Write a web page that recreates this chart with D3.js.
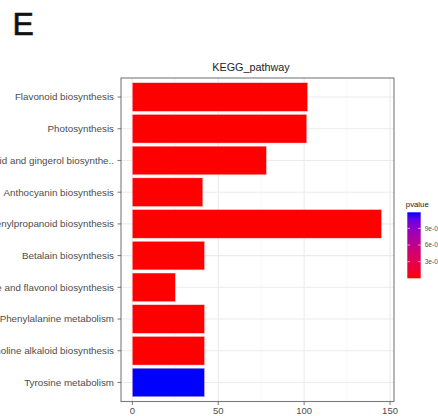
<!DOCTYPE html>
<html><head><meta charset="utf-8">
<script src="https://cdn.jsdelivr.net/npm/d3@7"></script>
<style>html,body{margin:0;padding:0;background:#fff;}svg{display:block;}</style>
</head><body>
<svg id="c" width="438" height="416"></svg>
<script>
const categories = [
  "Flavonoid biosynthesis",
  "Photosynthesis",
  "Stilbenoid, diarylheptanoid and gingerol biosynthe..",
  "Anthocyanin biosynthesis",
  "Phenylpropanoid biosynthesis",
  "Betalain biosynthesis",
  "Flavone and flavonol biosynthesis",
  "Phenylalanine metabolism",
  "Isoquinoline alkaloid biosynthesis",
  "Tyrosine metabolism"
];
const counts = [102, 101.5, 78, 41, 145, 42, 25, 42, 42, 42];
const pvalues = [1e-12, 2e-12, 5e-8, 3e-9, 1e-15, 4e-8, 2e-7, 6e-8, 8e-8, 1.19e-3];
const xTicks = [0, 50, 100, 150];
const xMinor = [25, 75, 125];
const legendTicks = [9e-4, 6e-4, 3e-4];
const legendTickLabels = ["9e-04", "6e-04", "3e-04"];

const svg = d3.select("#c");
const L = 121, R = 394, T = 78, B = 401.5;
const font = "Liberation Sans, Arial, Helvetica, sans-serif";

const x = d3.scaleLinear().domain([-6.6, 152.3]).range([L, R]);
const y = d3.scaleBand().domain(categories).range([T, B]).paddingInner(0.1).paddingOuter(0.15);
const pExt = d3.extent(pvalues);
const color = d3.scaleLinear().domain(pExt).range(["red", "blue"]).interpolate(d3.interpolateLab);

// grid
const g = svg.append("g");
g.selectAll(".minor").data(xMinor).enter().append("line")
  .attr("x1", d => x(d)).attr("x2", d => x(d)).attr("y1", T).attr("y2", B)
  .attr("stroke", "#f2f2f2").attr("stroke-width", 0.6);
g.selectAll(".major").data(xTicks).enter().append("line")
  .attr("x1", d => x(d)).attr("x2", d => x(d)).attr("y1", T).attr("y2", B)
  .attr("stroke", "#ebebeb").attr("stroke-width", 1.1);
g.selectAll(".hgrid").data(categories).enter().append("line")
  .attr("x1", L).attr("x2", R)
  .attr("y1", d => y(d) + y.bandwidth() / 2).attr("y2", d => y(d) + y.bandwidth() / 2)
  .attr("stroke", "#ebebeb").attr("stroke-width", 1.1);

// bars
g.selectAll(".bar").data(categories).enter().append("rect")
  .attr("x", x(0)).attr("y", d => y(d))
  .attr("width", (d, i) => x(counts[i]) - x(0))
  .attr("height", y.bandwidth())
  .attr("fill", (d, i) => color(pvalues[i]))
  .attr("stroke", "#ffd0d0").attr("stroke-width", 0.4);

// border
svg.append("rect").attr("x", L).attr("y", T).attr("width", R - L).attr("height", B - T)
  .attr("fill", "none").attr("stroke", "#7a7a7a").attr("stroke-width", 1.1);

// y axis
const ya = svg.append("g");
categories.forEach(c => {
  const cy = y(c) + y.bandwidth() / 2;
  ya.append("line").attr("x1", L - 3.5).attr("x2", L).attr("y1", cy).attr("y2", cy)
    .attr("stroke", "#555").attr("stroke-width", 0.8);
  ya.append("text").attr("x", L - 7).attr("y", cy).attr("dy", "0.35em")
    .attr("text-anchor", "end").attr("font-family", font).attr("font-size", 9.8)
    .attr("fill", "#4d4d4d").text(c);
});
// x axis
const xa = svg.append("g");
xTicks.forEach(t => {
  xa.append("line").attr("x1", x(t)).attr("x2", x(t)).attr("y1", B).attr("y2", B + 3.5)
    .attr("stroke", "#555").attr("stroke-width", 0.8);
  xa.append("text").attr("x", x(t)).attr("y", B + 12)
    .attr("text-anchor", "middle").attr("font-family", font).attr("font-size", 9.5)
    .attr("fill", "#4d4d4d").text(t);
});

// title
svg.append("text").attr("x", 251).attr("y", 71).attr("text-anchor", "middle")
  .attr("font-family", font).attr("font-size", 10.8).attr("fill", "#222").text("KEGG_pathway");

// panel letter
svg.append("text").attr("x", 12.5).attr("y", 34.5).attr("font-family", font)
  .attr("font-size", 32).attr("fill", "#111").attr("stroke", "#111").attr("stroke-width", 0.6).text("E");

// legend
const lx = 407.3, lw = 13.4, lt = 212.3, lb = 278.3;
const defs = svg.append("defs");
const grad = defs.append("linearGradient").attr("id", "pg").attr("x1", 0).attr("y1", 1).attr("x2", 0).attr("y2", 0);
d3.range(0, 1.0001, 0.1).forEach(f => {
  grad.append("stop").attr("offset", f).attr("stop-color", color(pExt[0] + f * (pExt[1] - pExt[0])));
});
svg.append("rect").attr("x", lx).attr("y", lt).attr("width", lw).attr("height", lb - lt).attr("fill", "url(#pg)");
const ly = d3.scaleLinear().domain(pExt).range([lb, lt]);
legendTicks.forEach((t, i) => {
  const yy = ly(t);
  svg.append("line").attr("x1", lx).attr("x2", lx + 2.7).attr("y1", yy).attr("y2", yy).attr("stroke", "#fff").attr("stroke-width", 0.6);
  svg.append("line").attr("x1", lx + lw - 2.7).attr("x2", lx + lw).attr("y1", yy).attr("y2", yy).attr("stroke", "#fff").attr("stroke-width", 0.6);
  svg.append("text").attr("x", lx + lw + 4).attr("y", yy).attr("dy", "0.35em")
    .attr("font-family", font).attr("font-size", 6.6).attr("fill", "#555").text(legendTickLabels[i]);
});
svg.append("text").attr("x", lx - 1.5).attr("y", 207).attr("font-family", font)
  .attr("font-size", 7.8).attr("fill", "#222").text("pvalue");
</script>
</body></html>
